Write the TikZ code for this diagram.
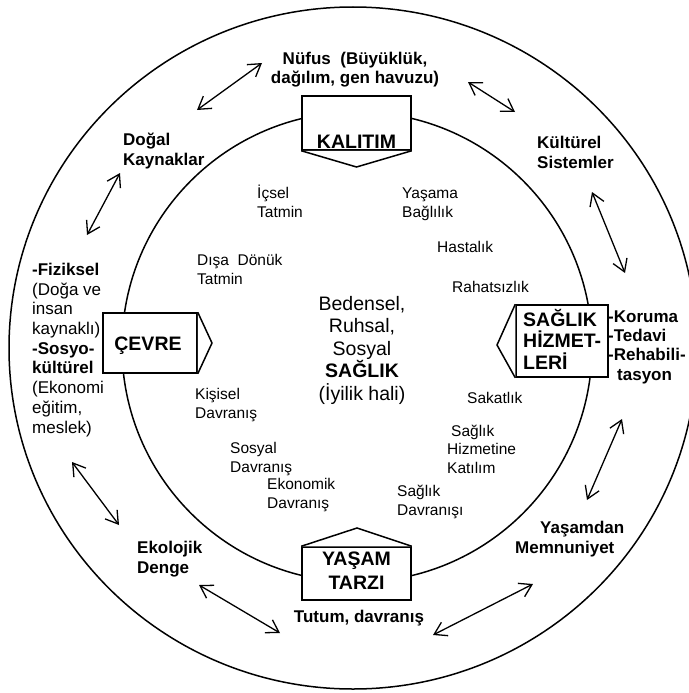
\documentclass[tikz,border=0pt]{standalone}
\usepackage{fontspec}
\setmainfont{Liberation Sans}
\usetikzlibrary{arrows.meta}
\begin{document}
\begin{tikzpicture}[x=1pt,y=-1pt,
  ring/.style={line width=1.5pt},
  boxline/.style={line width=1.5pt, fill=white, line join=miter},
  box/.style={draw, line width=1.5pt, fill=white, inner sep=0pt},
  biarrow/.style={line width=1.3pt, {Straight Barb[length=12pt,width=15pt]}-{Straight Barb[length=12pt,width=15pt]}},
  outl/.style={font=\fontsize{17}{19.7}\selectfont\bfseries, inner sep=0pt, align=left, anchor=base west},
  outc/.style={font=\fontsize{17}{18.3}\selectfont\bfseries, inner sep=0pt, align=center, anchor=base},
  inl/.style={font=\fontsize{15.5}{18.5}\selectfont, inner sep=0pt, align=left, anchor=base west},
  boxt/.style={font=\fontsize{19.5}{22}\selectfont\bfseries, inner sep=0pt, align=center, anchor=base},
  cent/.style={font=\fontsize{19.5}{22.5}\selectfont, inner sep=0pt, align=center, anchor=base},
  svc/.style={font=\fontsize{17}{19.3}\selectfont\bfseries, inner sep=0pt, align=left, anchor=base west}
]
\useasboundingbox (0,0) rectangle (688,693);
\fill[white] (0,0) rectangle (688,693);

% rings
\draw[ring] (353,348) ellipse [x radius=344pt, y radius=341pt];
\draw[ring] (357,347) circle [radius=235pt];

% KALITIM box
\node[box, minimum width=109pt, minimum height=54pt] (kal) at (356.5,123) {};
\coordinate (kaltip) at (356.5,167);
\draw[boxline] (kal.south west) -- (kaltip) -- (kal.south east);
\node[boxt] (kaltxt) at (356.5,148) {KALITIM};

% CEVRE box
\node[box, minimum width=94pt, minimum height=60pt] (cev) at (150,343) {};
\coordinate (cevtip) at (212,343);
\draw[boxline] (cev.north east) -- (cevtip) -- (cev.south east);
\node[boxt] (cevtxt) at (148,350) {ÇEVRE};

% SAGLIK HIZMETLERI box
\node[box, minimum width=92pt, minimum height=72pt] (hiz) at (562,341) {};
\coordinate (hiztip) at (497,345);
\draw[boxline] (hiz.north west) -- (hiztip) -- (hiz.south west);
\node[font=\fontsize{19.5}{21.5}\selectfont\bfseries, inner sep=0pt, align=left, anchor=base west] (hiztxt) at (523,369) {SAĞLIK\\HİZMET-\\LERİ};

% YASAM TARZI box
\node[box, minimum width=109pt, minimum height=53pt] (yas) at (356.5,573.5) {};
\coordinate (yastip) at (357,528);
\draw[boxline] (yas.north west) -- (yastip) -- (yas.north east);
\node[boxt, font=\fontsize{19.5}{24}\selectfont\bfseries] (yastxt) at (356.5,589) {YAŞAM\\TARZI};

% outer ring labels
\node[outc] (nufus) at (355,83) {Nüfus\ \ (Büyüklük,\\dağılım, gen havuzu)};
\node[outl] (dogal) at (123,165) {Doğal\\Kaynaklar};
\node[outl] (kultur) at (537,168) {Kültürel\\Sistemler};
\node[outl] (fiz) at (32,433) {-Fiziksel\\\mdseries(Doğa ve\\\mdseries insan\\\mdseries kaynaklı)\\-Sosyo-\\kültürel\\\mdseries(Ekonomi\\\mdseries eğitim,\\\mdseries meslek)};
\node[outl] (eko) at (137,573) {Ekolojik\\Denge};
\node[outl] (mem) at (515,553) {\hspace{25pt}Yaşamdan\\Memnuniyet};
\node[outc] (tutum) at (359,622) {Tutum, davranış};

% service labels
\node[svc] (kor) at (608,380) {-Koruma\\-Tedavi\\-Rehabili-\\\hspace{9pt}tasyon};

% inner labels
\node[inl] (icsel) at (257,217) {İçsel\\Tatmin};
\node[inl] (yasama) at (402,217) {Yaşama\\Bağlılık};
\node[inl] (hast) at (437,252) {Hastalık};
\node[inl] (disa) at (197,284) {Dışa\ \ Dönük\\Tatmin};
\node[inl] (rahat) at (452,292) {Rahatsızlık};
\node[inl] (kisi) at (195,418) {Kişisel\\Davranış};
\node[inl] (saka) at (467,403) {Sakatlık};
\node[inl] (katil) at (447,473) {\hspace{4pt}Sağlık\\Hizmetine\\Katılım};
\node[inl] (sosy) at (230,472) {Sosyal\\Davranış};
\node[inl] (ekon) at (267,508) {Ekonomik\\Davranış};
\node[inl] (sdav) at (397,515) {Sağlık\\Davranışı};

% centre
\node[cent] (saglik) at (362,400) {Bedensel,\\Ruhsal,\\Sosyal\\\textbf{SAĞLIK}\\(İyilik hali)};

% arrows
\coordinate (a1s) at (197,110); \coordinate (a1e) at (262,63);
\coordinate (a2s) at (468,82);  \coordinate (a2e) at (515,112);
\coordinate (a3s) at (120,173); \coordinate (a3e) at (87,235);
\coordinate (a4s) at (592,192); \coordinate (a4e) at (625,273);
\coordinate (a5s) at (72,462);  \coordinate (a5e) at (119,525);
\coordinate (a6s) at (199,585); \coordinate (a6e) at (280,633);
\coordinate (a7s) at (622,419); \coordinate (a7e) at (587,500);
\coordinate (a8s) at (433,635); \coordinate (a8e) at (533,584);
\draw[biarrow] (a1s) -- (a1e);
\draw[biarrow] (a2s) -- (a2e);
\draw[biarrow] (a3s) -- (a3e);
\draw[biarrow] (a4s) -- (a4e);
\draw[biarrow] (a5s) -- (a5e);
\draw[biarrow] (a6s) -- (a6e);
\draw[biarrow] (a7s) -- (a7e);
\draw[biarrow] (a8s) -- (a8e);
\end{tikzpicture}
\end{document}
